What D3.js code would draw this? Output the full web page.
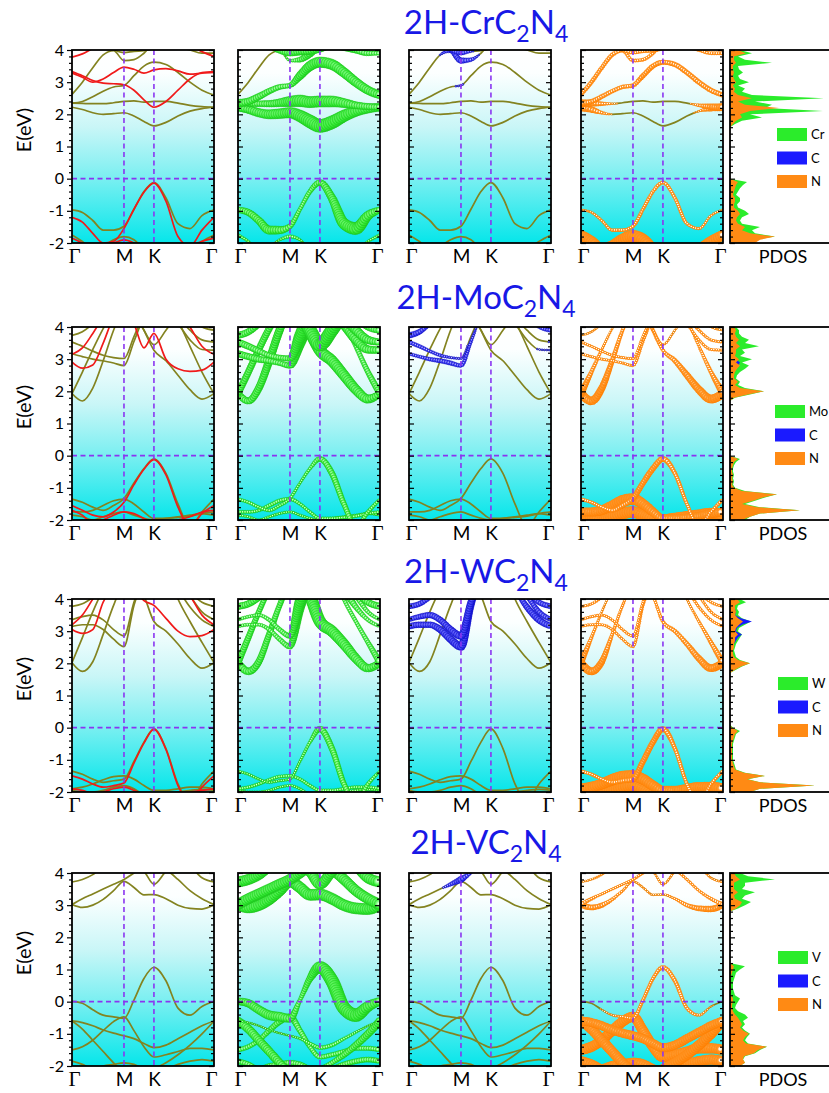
<!DOCTYPE html>
<html>
<head>
<meta charset="utf-8">
<script src="https://cdn.jsdelivr.net/npm/d3@7"></script>
<style>
  body { margin: 0; background: #fff; }
  svg { display: block; }
</style>
</head>
<body>
<script>
// ---- k-path sampling and axis labels ----
var kFrac = [0, 0.0732, 0.1464, 0.2196, 0.2928, 0.366, 0.4363, 0.5067, 0.577, 0.6616, 0.7462, 0.8308, 0.9154, 1];
var kTickPos = [0, 0.366, 0.577, 1];
var kTickLab = ["Γ", "M", "K", "Γ"];
var eTicks = [4, 3, 2, 1, 0, -1, -2];
var metals = ["Cr", "Mo", "W", "V"];
var species = ["C", "N"];
var z = [0, 0, 0, 0, 0, 0, 0, 0, 0, 0, 0, 0, 0, 0];

// ---- 2H-CrC2N4 ----
var crUp = [
  [-1.75, -1.95, -2.2, -2.1, -1.9, -1.8, -1.9, -2.2, -2.4, -2.4, -2.3, -2.2, -1.95, -1.75],
  [-0.97, -1.05, -1.3, -1.6, -1.6, -1.48, -0.95, -0.4, -0.12, -0.6, -1.4, -1.55, -1.15, -0.97],
  [2.22, 2.15, 2.05, 2.0, 2.02, 2.05, 1.95, 1.78, 1.64, 1.75, 1.95, 2.1, 2.18, 2.22],
  [2.35, 2.34, 2.33, 2.33, 2.36, 2.4, 2.42, 2.38, 2.4, 2.4, 2.35, 2.28, 2.24, 2.22],
  [2.35, 2.4, 2.55, 2.72, 2.85, 2.9, 3.2, 3.5, 3.62, 3.55, 3.3, 3.0, 2.75, 2.6],
  [2.62, 3.0, 3.45, 3.85, 3.98, 3.67, 3.7, 3.9, 4.2, 4.2, 4.1, 4.0, 3.9, 3.9],
  [4.4, 4.4, 4.3, 4.15, 4.0, 3.92, 3.96, 3.98, 4.05, 4.2, 4.3, 4.4, 4.4, 4.4]
];
var crDn = [
  [-1.85, -2.0, -2.15, -2.1, -2.0, -1.9, -2.0, -2.2, -2.3, -2.3, -2.2, -2.1, -1.95, -1.85],
  [-1.2, -1.35, -1.7, -2.0, -1.95, -1.55, -0.95, -0.42, -0.14, -0.7, -1.8, -2.1, -1.6, -1.2],
  [3.33, 3.2, 3.05, 2.97, 2.95, 2.92, 2.75, 2.45, 2.22, 2.4, 2.75, 3.1, 3.3, 3.33],
  [3.28, 3.15, 3.0, 3.1, 3.3, 3.47, 3.4, 3.28, 3.38, 3.42, 3.35, 3.25, 3.28, 3.3],
  [3.78, 3.88, 4.05, 4.2, 4.3, 4.3, 4.3, 4.3, 4.3, 4.3, 4.3, 4.15, 3.95, 3.8]
];
var crWm = [
  [0.25, 0.2, 0, 0, 0.2, 0.3, 0.2, 0, 0, 0, 0, 0, 0.2, 0.25],
  [0.45, 0.5, 0.55, 0.65, 0.6, 0.4, 0.3, 0.35, 0.45, 0.6, 0.85, 0.95, 0.7, 0.45],
  [0.6, 0.6, 0.65, 0.7, 0.75, 0.8, 0.9, 1, 1, 1, 0.9, 0.8, 0.7, 0.6],
  [0.45, 0.45, 0.45, 0.5, 0.6, 0.8, 0.9, 0.85, 0.85, 0.85, 0.7, 0.55, 0.5, 0.45],
  [0.6, 0.55, 0.5, 0.45, 0.4, 0.35, 0.6, 0.75, 0.8, 0.8, 0.75, 0.7, 0.65, 0.6],
  [0, 0, 0, 0, 0.1, 0.2, 0.4, 0.6, 0.7, 0.7, 0.6, 0.5, 0.4, 0.3],
  [0.5, 0.5, 0.5, 0.5, 0.5, 0.55, 0.6, 0.6, 0.6, 0.6, 0.5, 0.5, 0.5, 0.5]
];
var crWc = [z, z, z, z,
  [0, 0, 0, 0.05, 0.12, 0.18, 0.05, 0, 0, 0, 0, 0, 0, 0],
  [0, 0, 0, 0.15, 0.35, 0.45, 0.3, 0.1, 0, 0, 0, 0, 0, 0],
  [0, 0, 0, 0.1, 0.3, 0.4, 0.2, 0, 0, 0, 0, 0, 0, 0]
];
var crWn = [
  [0.8, 0.85, 0.9, 0.9, 0.95, 1, 0.95, 0.9, 0.8, 0.8, 0.8, 0.85, 0.85, 0.8],
  [0.2, 0.22, 0.25, 0.28, 0.3, 0.3, 0.3, 0.3, 0.3, 0.3, 0.28, 0.25, 0.22, 0.2],
  [0.6, 0.5, 0.3, 0.15, 0.05, 0, 0, 0, 0, 0, 0.05, 0.2, 0.45, 0.6],
  [0.6, 0.5, 0.35, 0.2, 0.1, 0.05, 0, 0, 0, 0, 0.1, 0.3, 0.5, 0.6],
  [0.45, 0.4, 0.38, 0.35, 0.35, 0.35, 0.4, 0.4, 0.4, 0.4, 0.4, 0.4, 0.4, 0.4],
  [0.35, 0.35, 0.35, 0.35, 0.3, 0.3, 0.3, 0.3, 0.3, 0.3, 0.3, 0.3, 0.3, 0.3],
  [0.3, 0.3, 0.3, 0.3, 0.3, 0.3, 0.3, 0.3, 0.3, 0.3, 0.3, 0.3, 0.3, 0.3]
];

// ---- 2H-MoC2N4 ----
var moUp = [
  [-1.85, -1.9, -2.0, -1.9, -1.8, -1.75, -1.85, -1.95, -2.0, -1.95, -1.9, -1.85, -1.8, -1.85],
  [-1.75, -1.75, -1.7, -1.55, -1.4, -1.35, -1.5, -1.75, -1.95, -1.95, -1.92, -1.88, -1.8, -1.75],
  [-1.35, -1.45, -1.6, -1.7, -1.55, -1.33, -0.85, -0.4, -0.1, -0.55, -1.5, -2.2, -1.75, -1.35],
  [1.93, 1.7, 2.1, 2.95, 3.9, 4.6, 4.6, 3.9, 3.28, 2.95, 2.5, 2.05, 1.76, 1.93],
  [1.93, 2.6, 3.3, 3.95, 4.5, 4.8, 4.8, 4.8, 4.8, 4.8, 4.2, 3.4, 2.6, 1.93],
  [3.17, 3.08, 3.0, 2.95, 2.88, 2.8, 3.55, 4.3, 4.6, 4.5, 4.1, 3.6, 3.3, 3.28],
  [3.53, 3.4, 3.25, 3.12, 3.05, 3.02, 3.7, 4.4, 4.7, 4.6, 4.3, 3.9, 3.6, 3.53],
  [4.6, 4.6, 4.6, 4.6, 4.6, 4.6, 4.4, 3.9, 3.45, 3.9, 4.4, 4.6, 4.6, 4.6],
  [3.74, 3.85, 4.1, 4.4, 4.6, 4.7, 4.7, 4.7, 4.7, 4.7, 4.6, 4.3, 4.0, 3.9]
];
var moDn = [
  [-1.7, -1.85, -2.1, -2.0, -1.85, -1.75, -1.8, -1.95, -2.1, -2.1, -2.0, -1.9, -1.75, -1.7],
  [-1.55, -1.7, -1.85, -1.9, -1.75, -1.45, -0.9, -0.42, -0.12, -0.6, -1.6, -2.2, -1.8, -1.55],
  [2.91, 2.72, 2.82, 3.5, 4.3, 4.6, 4.1, 3.35, 3.8, 3.0, 2.7, 2.62, 2.66, 2.91],
  [3.15, 3.35, 3.8, 4.3, 4.6, 4.6, 4.6, 4.6, 4.6, 4.6, 4.5, 4.0, 3.4, 3.15]
];
var moWm = [
  [0.2, 0.2, 0.2, 0.2, 0.2, 0.2, 0.2, 0.2, 0.2, 0.2, 0.2, 0.2, 0.2, 0.2],
  [0.25, 0.25, 0.25, 0.3, 0.3, 0.3, 0.25, 0.25, 0.25, 0.25, 0.25, 0.25, 0.25, 0.25],
  [0.25, 0.25, 0.25, 0.25, 0.25, 0.25, 0.2, 0.25, 0.4, 0.45, 0.4, 0.35, 0.3, 0.25],
  [0.5, 0.5, 0.55, 0.6, 0.6, 0.6, 0.8, 0.9, 0.9, 0.85, 0.8, 0.75, 0.65, 0.5],
  [0.5, 0.5, 0.5, 0.5, 0.5, 0.5, 0.5, 0.5, 0.5, 0.5, 0.4, 0.35, 0.4, 0.5],
  [0.5, 0.5, 0.5, 0.45, 0.4, 0.45, 0.9, 1, 1, 0.9, 0.8, 0.7, 0.6, 0.5],
  [0.5, 0.5, 0.45, 0.4, 0.4, 0.45, 0.9, 1, 1, 0.9, 0.8, 0.7, 0.6, 0.5],
  [0.8, 0.8, 0.8, 0.8, 0.8, 0.8, 0.9, 1, 1, 1, 0.9, 0.8, 0.8, 0.8],
  [0.5, 0.5, 0.5, 0.5, 0.5, 0.5, 0.5, 0.5, 0.5, 0.5, 0.5, 0.5, 0.5, 0.5]
];
var moWc = [z, z, z, z, z,
  [0.25, 0.25, 0.3, 0.35, 0.35, 0.3, 0.25, 0.1, 0, 0, 0, 0.1, 0.15, 0.15],
  [0.3, 0.3, 0.25, 0.25, 0.2, 0.18, 0.12, 0.05, 0, 0, 0, 0.05, 0.1, 0.15],
  z,
  [0.45, 0.4, 0.3, 0.2, 0.1, 0, 0, 0, 0, 0, 0, 0.15, 0.25, 0.35]
];
var moWn = [
  [0.9, 0.9, 0.9, 0.9, 0.9, 0.9, 0.9, 0.9, 0.9, 0.9, 0.9, 0.9, 0.9, 0.9],
  [0.7, 0.7, 0.75, 0.8, 0.9, 0.9, 0.8, 0.7, 0.6, 0.6, 0.6, 0.65, 0.7, 0.7],
  [0.3, 0.3, 0.3, 0.35, 0.4, 0.45, 0.45, 0.45, 0.45, 0.35, 0.3, 0.3, 0.3, 0.3],
  [0.7, 0.65, 0.55, 0.4, 0.3, 0.3, 0.3, 0.3, 0.3, 0.4, 0.5, 0.6, 0.7, 0.7],
  [0.55, 0.35, 0.25, 0.2, 0.2, 0.2, 0.2, 0.2, 0.2, 0.2, 0.2, 0.25, 0.35, 0.55],
  [0.25, 0.25, 0.25, 0.25, 0.25, 0.25, 0.25, 0.25, 0.25, 0.25, 0.25, 0.25, 0.25, 0.25],
  [0.25, 0.25, 0.25, 0.25, 0.25, 0.25, 0.25, 0.25, 0.25, 0.25, 0.25, 0.25, 0.25, 0.25],
  [0.2, 0.2, 0.2, 0.2, 0.2, 0.2, 0.2, 0.2, 0.2, 0.2, 0.2, 0.2, 0.2, 0.2],
  [0.2, 0.2, 0.2, 0.2, 0.2, 0.2, 0.2, 0.2, 0.2, 0.2, 0.2, 0.2, 0.2, 0.2]
];

// ---- 2H-WC2N4 ----
var wUp = [
  [-1.95, -2.0, -2.0, -1.95, -1.85, -1.8, -1.9, -2.1, -2.2, -2.1, -2.0, -1.95, -1.92, -1.95],
  [-1.9, -1.85, -1.75, -1.62, -1.52, -1.5, -1.6, -1.8, -1.95, -1.95, -1.9, -1.85, -1.85, -1.9],
  [-1.35, -1.45, -1.6, -1.7, -1.65, -1.6, -1.05, -0.45, -0.04, -0.65, -1.75, -2.3, -1.75, -1.35],
  [2.02, 1.75, 2.05, 2.9, 3.8, 4.5, 4.6, 4.1, 3.3, 3.0, 2.6, 2.15, 1.85, 2.02],
  [2.02, 2.8, 3.6, 4.3, 4.8, 5, 5, 5, 5, 5, 4.0, 3.3, 2.65, 2.02],
  [3.15, 3.2, 3.2, 3.05, 2.75, 2.52, 3.8, 4.6, 4.8, 4.8, 4.3, 3.75, 3.35, 3.15],
  [3.36, 3.45, 3.5, 3.35, 3.05, 2.85, 3.9, 4.7, 4.9, 4.9, 4.6, 4.1, 3.6, 3.36],
  [3.77, 3.85, 4.05, 4.3, 4.5, 4.6, 4.6, 4.6, 4.6, 4.6, 4.5, 4.2, 3.9, 3.77]
];
var wDn = [
  [-1.9, -1.95, -2.05, -2.0, -1.9, -1.85, -1.95, -2.1, -2.2, -2.1, -2.05, -2.0, -1.95, -1.9],
  [-1.5, -1.6, -1.75, -1.85, -1.8, -1.72, -1.1, -0.48, -0.05, -0.68, -1.8, -2.3, -1.85, -1.5],
  [3.05, 2.93, 3.05, 3.9, 4.4, 4.5, 4.3, 3.95, 3.8, 3.4, 3.0, 2.83, 2.86, 3.05],
  [3.2, 3.5, 4.0, 4.5, 4.6, 4.6, 4.6, 4.6, 4.6, 4.6, 4.5, 4.1, 3.5, 3.2]
];
var wWm = [
  [0.2, 0.2, 0.2, 0.2, 0.2, 0.2, 0.2, 0.2, 0.2, 0.2, 0.2, 0.2, 0.2, 0.2],
  [0.25, 0.25, 0.25, 0.25, 0.25, 0.25, 0.25, 0.25, 0.25, 0.25, 0.25, 0.25, 0.25, 0.25],
  [0.2, 0.2, 0.2, 0.2, 0.2, 0.2, 0.2, 0.25, 0.45, 0.45, 0.4, 0.35, 0.3, 0.2],
  [0.55, 0.55, 0.5, 0.45, 0.4, 0.5, 0.8, 0.9, 0.9, 0.85, 0.8, 0.7, 0.6, 0.55],
  [0.5, 0.45, 0.4, 0.4, 0.4, 0.4, 0.4, 0.4, 0.4, 0.4, 0.3, 0.3, 0.35, 0.5],
  [0.25, 0.25, 0.25, 0.3, 0.35, 0.4, 0.8, 0.9, 0.9, 0.8, 0.6, 0.4, 0.3, 0.25],
  [0.25, 0.25, 0.25, 0.3, 0.35, 0.4, 0.8, 0.9, 0.9, 0.8, 0.6, 0.4, 0.3, 0.25],
  [0.5, 0.5, 0.5, 0.5, 0.5, 0.5, 0.5, 0.5, 0.5, 0.5, 0.5, 0.5, 0.5, 0.5]
];
var wWc = [z, z, z, z, z,
  [0.45, 0.45, 0.45, 0.5, 0.55, 0.6, 0.5, 0.3, 0.1, 0.1, 0.3, 0.45, 0.5, 0.45],
  [0.35, 0.4, 0.45, 0.45, 0.5, 0.55, 0.5, 0.3, 0.1, 0.1, 0.2, 0.35, 0.4, 0.35],
  [0.4, 0.4, 0.35, 0.3, 0.2, 0.1, 0.1, 0.1, 0.1, 0.1, 0.2, 0.3, 0.4, 0.4]
];
var wWn = [
  [0.9, 0.9, 0.9, 0.9, 0.9, 0.9, 0.9, 0.9, 0.9, 0.9, 0.9, 0.9, 0.9, 0.9],
  [0.85, 0.85, 0.85, 0.9, 0.9, 0.9, 0.85, 0.8, 0.7, 0.7, 0.75, 0.8, 0.85, 0.85],
  [0.3, 0.3, 0.3, 0.35, 0.4, 0.45, 0.45, 0.45, 0.45, 0.35, 0.3, 0.3, 0.3, 0.3],
  [0.6, 0.6, 0.5, 0.3, 0.25, 0.2, 0.2, 0.25, 0.3, 0.35, 0.4, 0.5, 0.6, 0.6],
  [0.5, 0.3, 0.2, 0.2, 0.2, 0.2, 0.2, 0.2, 0.2, 0.2, 0.2, 0.25, 0.35, 0.5],
  [0.25, 0.25, 0.25, 0.25, 0.25, 0.25, 0.25, 0.25, 0.25, 0.25, 0.25, 0.25, 0.25, 0.25],
  [0.25, 0.25, 0.25, 0.25, 0.25, 0.25, 0.25, 0.25, 0.25, 0.25, 0.25, 0.25, 0.25, 0.25],
  [0.25, 0.25, 0.25, 0.25, 0.25, 0.25, 0.25, 0.25, 0.25, 0.25, 0.25, 0.25, 0.25, 0.25]
];

// ---- 2H-VC2N4 ----
var vUp = [
  [-1.85, -1.95, -2.1, -2.0, -1.95, -1.9, -1.95, -2.1, -2.2, -2.1, -1.95, -1.85, -1.8, -1.85],
  [-1.5, -1.4, -1.2, -0.9, -0.62, -0.47, -0.9, -1.4, -1.72, -1.65, -1.55, -1.45, -1.45, -1.5],
  [-0.6, -0.85, -1.2, -1.55, -1.9, -2.2, -2.4, -2.3, -2.1, -1.9, -1.65, -1.35, -1.0, -0.6],
  [-0.6, -0.65, -0.75, -0.88, -0.98, -1.06, -1.15, -1.3, -1.43, -1.35, -1.15, -0.95, -0.75, -0.6],
  [0.01, -0.05, -0.25, -0.42, -0.47, -0.52, 0.05, 0.72, 1.07, 0.65, -0.2, -0.42, -0.15, 0.01],
  [3.02, 2.93, 3.0, 3.18, 3.45, 3.74, 3.55, 3.32, 3.33, 3.2, 3.0, 2.9, 2.88, 3.02],
  [3.02, 3.2, 3.35, 3.5, 3.65, 3.8, 4.0, 4.2, 4.2, 4.1, 3.8, 3.45, 3.2, 3.02],
  [3.72, 3.8, 3.95, 4.2, 4.3, 4.2, 4.2, 4.05, 3.65, 4.05, 4.3, 4.2, 3.85, 3.72]
];
var vDn = [];
var vWm = [
  [0.4, 0.4, 0.4, 0.4, 0.4, 0.4, 0.4, 0.4, 0.4, 0.4, 0.4, 0.4, 0.4, 0.4],
  [0.35, 0.35, 0.35, 0.4, 0.45, 0.5, 0.4, 0.35, 0.35, 0.35, 0.35, 0.35, 0.35, 0.35],
  [0.6, 0.65, 0.65, 0.65, 0.6, 0.5, 0.3, 0.3, 0.3, 0.35, 0.45, 0.5, 0.55, 0.6],
  [0.15, 0.15, 0.15, 0.15, 0.15, 0.15, 0.2, 0.25, 0.3, 0.3, 0.25, 0.2, 0.15, 0.15],
  [0.55, 0.6, 0.65, 0.7, 0.7, 0.6, 0.3, 0.5, 0.9, 1, 1, 1, 0.8, 0.6],
  [0.85, 0.85, 0.85, 0.85, 0.85, 0.85, 0.85, 0.85, 0.85, 0.85, 0.85, 0.85, 0.85, 0.85],
  [0.8, 0.8, 0.8, 0.8, 0.8, 0.8, 0.8, 0.8, 0.8, 0.8, 0.8, 0.8, 0.8, 0.8],
  [0.8, 0.8, 0.8, 0.8, 0.8, 0.8, 0.8, 0.8, 0.8, 0.8, 0.8, 0.8, 0.8, 0.8]
];
var vWc = [z, z, z, z, z, z,
  [0, 0, 0, 0.1, 0.3, 0.5, 0.2, 0, 0, 0, 0, 0, 0, 0],
  [0, 0, 0, 0.1, 0.2, 0.3, 0.1, 0, 0, 0, 0, 0, 0, 0]
];
var vWn = [
  [0.8, 0.8, 0.8, 0.8, 0.8, 0.8, 0.8, 0.8, 0.8, 0.8, 0.8, 0.8, 0.8, 0.8],
  [0.8, 0.8, 0.8, 0.8, 0.8, 0.8, 0.8, 0.8, 0.8, 0.8, 0.8, 0.8, 0.8, 0.8],
  [0.75, 0.8, 0.8, 0.8, 0.8, 0.8, 0.8, 0.8, 0.8, 0.8, 0.8, 0.8, 0.8, 0.75],
  [0.7, 0.7, 0.7, 0.7, 0.7, 0.7, 0.7, 0.7, 0.7, 0.7, 0.7, 0.7, 0.7, 0.7],
  [0.1, 0.1, 0.15, 0.2, 0.25, 0.3, 0.3, 0.3, 0.35, 0.35, 0.3, 0.25, 0.15, 0.1],
  [0.5, 0.45, 0.4, 0.3, 0.25, 0.2, 0.2, 0.2, 0.2, 0.25, 0.35, 0.45, 0.5, 0.5],
  [0.35, 0.3, 0.25, 0.25, 0.25, 0.25, 0.25, 0.25, 0.25, 0.25, 0.25, 0.25, 0.3, 0.35],
  [0.2, 0.2, 0.2, 0.2, 0.2, 0.2, 0.2, 0.2, 0.2, 0.2, 0.2, 0.2, 0.2, 0.2]
];

// ---- PDOS, E from -2.0 to 4.0 eV in 0.1 eV steps ----
var crDosM = [1.2, 2.5, 4.5, 2.5, 2.2, 3.0, 1.2, 1.0, 1.2, 1.9, 1.5, 0.8, 0.7, 1.0, 1.0, 0.6, 0.8, 1.0, 1.3, 1.7,
  0, 0, 0, 0, 0, 0, 0, 0, 0, 0, 0, 0, 0, 0, 0, 0, 0,
  0.5, 1.2, 3.2, 2.0, 9.3, 3.5, 4.2, 2.5, 9.4, 2.2, 1.2, 1.5, 0.8, 1.9, 1.0, 0.8, 1.3, 0.9, 0.8, 4.2, 1.5, 0.8, 2.2, 1.0];
var crDosC = [0.2, 0.2, 0.2, 0.2, 0.2, 0.2, 0.2, 0.2, 0.2, 0.2, 0.2, 0.2, 0.2, 0.2, 0.2, 0.2, 0.2, 0.2, 0.2, 0.2,
  0, 0, 0, 0, 0, 0, 0, 0, 0, 0, 0, 0, 0, 0, 0, 0, 0,
  0.2, 0.2, 0.2, 0.2, 0.2, 0.2, 0.2, 0.2, 0.2, 0.2, 0.2, 0.2, 0.2, 0.2, 0.2, 0.2, 0.2, 0.2, 0.2, 0.3, 0.3, 0.3, 0.4, 0.3];
var crDosN = [2.5, 3.0, 4.5, 2.0, 1.2, 1.5, 0.8, 0.6, 0.7, 1.0, 0.8, 0.4, 0.4, 0.5, 0.5, 0.3, 0.4, 0.5, 0.6, 0.8,
  0, 0, 0, 0, 0, 0, 0, 0, 0, 0, 0, 0, 0, 0, 0, 0, 0,
  0.3, 0.6, 1.2, 1.0, 2.0, 4.9, 1.5, 0.8, 2.2, 0.8, 0.4, 0.5, 0.3, 0.6, 0.4, 0.3, 0.4, 0.3, 0.3, 0.6, 0.4, 0.4, 1.6, 0.8];

var moDosM = [1.5, 2.0, 3.0, 7.0, 3.0, 1.5, 2.5, 3.5, 4.7, 1.5, 0.5, 0.3, 0.4, 0.3, 0.4, 0.3, 0.3, 0.4, 0.6, 1.0,
  0, 0, 0, 0, 0, 0, 0, 0, 0, 0, 0, 0, 0, 0, 0, 0, 0, 0,
  0.5, 2.0, 3.4, 1.5, 0.8, 1.0, 0.6, 0.7, 1.0, 1.5, 1.9, 1.2, 2.2, 1.0, 1.5, 1.2, 2.9, 1.5, 1.9, 1.2, 0.9, 0.9, 0.6];
var moDosC = [0.1, 0.1, 0.1, 0.1, 0.1, 0.1, 0.1, 0.1, 0.1, 0.1, 0.1, 0.1, 0.1, 0.1, 0.1, 0.1, 0.1, 0.1, 0.1, 0.1,
  0, 0, 0, 0, 0, 0, 0, 0, 0, 0, 0, 0, 0, 0, 0, 0, 0, 0,
  0.1, 0.2, 0.3, 0.2, 0.2, 0.3, 0.2, 0.2, 0.3, 0.4, 0.8, 1.0, 0.6, 0.3, 0.3, 0.4, 0.5, 0.3, 0.5, 0.3, 0.2, 0.3, 0.2];
var moDosN = [1.2, 2.0, 3.0, 7.0, 2.8, 1.2, 2.3, 3.3, 4.7, 1.2, 0.4, 0.2, 0.3, 0.2, 0.3, 0.2, 0.2, 0.3, 0.4, 0.8,
  0, 0, 0, 0, 0, 0, 0, 0, 0, 0, 0, 0, 0, 0, 0, 0, 0, 0,
  0.4, 1.8, 3.4, 1.0, 0.5, 0.8, 0.4, 0.4, 0.5, 0.7, 1.0, 0.6, 0.9, 0.5, 0.6, 0.6, 1.0, 0.6, 0.9, 0.6, 0.5, 0.6, 0.4];

var wDosM = [2.0, 3.0, 8.5, 3.0, 1.8, 3.5, 1.5, 0.6, 0.5, 0.4, 0.3, 0.3, 0.3, 0.3, 0.3, 0.3, 0.4, 0.5, 0.6, 1.0,
  0.3, 0, 0, 0, 0, 0, 0, 0, 0, 0, 0, 0, 0, 0, 0, 0, 0, 0,
  0.6, 1.2, 2.0, 1.0, 0.6, 0.5, 0.4, 0.5, 0.6, 0.8, 1.0, 1.2, 0.8, 0.9, 1.5, 2.1, 1.2, 0.8, 0.9, 0.7, 0.8, 1.6, 1.0];
var wDosC = [0.1, 0.1, 0.1, 0.1, 0.1, 0.1, 0.1, 0.1, 0.1, 0.1, 0.1, 0.1, 0.1, 0.1, 0.1, 0.1, 0.1, 0.1, 0.1, 0.1,
  0, 0, 0, 0, 0, 0, 0, 0, 0, 0, 0, 0, 0, 0, 0, 0, 0, 0,
  0.1, 0.2, 0.3, 0.2, 0.2, 0.2, 0.2, 0.3, 0.4, 0.6, 0.8, 1.2, 0.6, 0.7, 1.2, 2.2, 1.1, 0.5, 0.6, 0.5, 0.4, 0.7, 0.5];
var wDosN = [2.0, 3.0, 8.5, 3.0, 1.7, 3.5, 1.4, 0.5, 0.4, 0.3, 0.2, 0.2, 0.2, 0.2, 0.2, 0.2, 0.3, 0.4, 0.5, 0.8,
  0.2, 0, 0, 0, 0, 0, 0, 0, 0, 0, 0, 0, 0, 0, 0, 0, 0, 0,
  0.5, 1.1, 2.0, 0.8, 0.4, 0.3, 0.3, 0.4, 0.4, 0.5, 0.5, 0.8, 0.5, 0.6, 0.9, 1.3, 0.8, 0.5, 0.6, 0.5, 0.5, 1.0, 0.7];

var vDosM = [1.0, 1.5, 1.3, 1.5, 2.5, 3.0, 3.7, 1.8, 1.5, 1.7, 2.0, 1.5, 1.2, 1.5, 1.3, 1.8, 1.5, 0.8, 0.5, 0.6,
  0.8, 1.0, 0.5, 0.4, 0.3, 0.3, 0.3, 0.4, 0.5, 0.6, 1.0, 1.5,
  0, 0, 0, 0, 0, 0, 0, 0, 0, 0, 0, 0, 0, 0, 0, 0, 0,
  0.8, 1.5, 2.1, 1.2, 1.5, 2.5, 1.2, 1.5, 1.5, 4.5, 1.8, 1.0];
var vDosC = [0.1, 0.1, 0.1, 0.1, 0.1, 0.1, 0.1, 0.1, 0.1, 0.1, 0.1, 0.1, 0.1, 0.1, 0.1, 0.1, 0.1, 0.1, 0.1, 0.1,
  0, 0, 0, 0, 0, 0, 0, 0, 0, 0, 0, 0,
  0, 0, 0, 0, 0, 0, 0, 0, 0, 0, 0, 0, 0, 0, 0, 0, 0,
  0.1, 0.2, 0.2, 0.1, 0.1, 0.2, 0.1, 0.2, 0.2, 0.5, 0.3, 0.2];
var vDosN = [1.0, 1.5, 1.3, 1.4, 2.4, 2.8, 3.7, 1.6, 1.3, 1.5, 1.9, 1.3, 1.0, 1.2, 1.0, 0.8, 0.5, 0.3, 0.2, 0.2,
  0.3, 0.3, 0.1, 0.1, 0.1, 0.1, 0.1, 0.1, 0.1, 0.2, 0.3, 0.4,
  0, 0, 0, 0, 0, 0, 0, 0, 0, 0, 0, 0, 0, 0, 0, 0, 0,
  0.6, 1.0, 1.2, 0.5, 0.4, 0.8, 0.4, 0.4, 0.4, 1.0, 0.6, 0.4];

// tables built from the arrays above
var upBands = [crUp, moUp, wUp, vUp];
var dnBands = [crDn, moDn, wDn, vDn];
var projW = [[crWm, moWm, wWm, vWm], [crWc, moWc, wWc, vWc], [crWn, moWn, wWn, vWn]];
var dosTable = [[crDosM, crDosC, crDosN], [moDosM, moDosC, moDosN], [wDosM, wDosC, wDosN], [vDosM, vDosC, vDosN]];
var eGrid = d3.range(61).map(function(i) { return -2 + i * 0.1; });

// ---- layout ----
var W = 829, H = 1093;
var panelX = [72, 238, 409, 581], panelW = 142, panelH = 193, pdosX = 730;
var rowTop = [50, 327, 599, 873];
var titleY = [34, 309, 583, 854], titleX = 486;
var legendX = [777, 775, 778, 778];
var olive = "#838320", red = "#f01a1a", dashCol = "#8a35f0";
var dosCols = ["#2bec2b", "#1a1aff", "#ff8a14"];
var ballFill = ["url(#gBall)", "url(#bBall)", "url(#oBall)"];
var ballStroke = ["#22c422", "#1515c0", "none"];
var sans = "Lato, 'Open Sans', sans-serif";

var svg = d3.select("body").append("svg").attr("width", W).attr("height", H);
svg.append("rect").attr("width", W).attr("height", H).attr("fill", "#fff");
var defs = svg.append("defs");

var bg = defs.append("linearGradient").attr("id", "bgGrad")
    .attr("x1", 0).attr("y1", 0).attr("x2", 0).attr("y2", 1);
[[0, "#ffffff"], [0.12, "#fcffff"], [0.4, "#c9f6f7"], [0.67, "#78eff1"], [1, "#06e6ea"]].forEach(function(s) {
    bg.append("stop").attr("offset", s[0]).attr("stop-color", s[1]);
});

function radial(id, stops) {
    var g = defs.append("radialGradient").attr("id", id).attr("cx", "45%").attr("cy", "45%").attr("r", "55%");
    stops.forEach(function(s) { g.append("stop").attr("offset", s[0]).attr("stop-color", s[1]); });
}
radial("gBall", [[0, "#f0fff0"], [0.35, "#94ff94"], [0.75, "#34ec34"], [1, "#1cd01c"]]);
radial("bBall", [[0, "#d4d4ff"], [0.4, "#6060ff"], [1, "#1414e0"]]);
radial("oBall", [[0, "#ffffff"], [0.22, "#fff3e4"], [0.42, "#ff9a2e"], [1, "#ff7f00"]]);

defs.append("clipPath").attr("id", "pclip").append("rect").attr("width", panelW).attr("height", panelH);
defs.append("clipPath").attr("id", "dclip").append("rect").attr("width", 200).attr("height", panelH);

var x = d3.scaleLinear().domain([0, 1]).range([0, panelW]);
var y = d3.scaleLinear().domain([-2, 4]).range([panelH, 0]);
var rScale = d3.scaleLinear().domain([0, 1]).range([0, 6.5]);
var xd = d3.scaleLinear().domain([0, 10]).range([0, 100]);

var bandLine = d3.line()
    .x(function(d, i) { return x(kFrac[i]); })
    .y(function(d) { return y(d); })
    .curve(d3.curveMonotoneX);

var dosArea = d3.area()
    .y(function(d, i) { return y(eGrid[i]); })
    .x0(0)
    .x1(function(d) { return xd(d); });

var minorTicks = d3.range(-2, 4.001, 0.2).filter(function(v) { return Math.abs(v - Math.round(v)) > 0.01; });

function weightAt(w, f) {
    var j = d3.bisectRight(kFrac, f) - 1;
    j = Math.max(0, Math.min(kFrac.length - 2, j));
    var t = (f - kFrac[j]) / (kFrac[j + 1] - kFrac[j]);
    t = Math.max(0, Math.min(1, t));
    return w[j] + (w[j + 1] - w[j]) * t;
}

// circles strung along a band, sized by projection weight
function fatBand(c, band, w, fill, stroke) {
    if (!w || !d3.max(w)) return;
    var tmp = c.append("path").attr("d", bandLine(band)).attr("fill", "none");
    var node = tmp.node(), L = node.getTotalLength(), pts = [];
    for (var s = 0; s <= L; s += 2.4) {
        var p = node.getPointAtLength(s);
        if (p.y < -8 || p.y > panelH + 8) continue;
        var r = rScale(weightAt(w, x.invert(p.x)));
        if (r >= 0.9) pts.push([p.x, p.y, r]);
    }
    tmp.remove();
    c.append("g").selectAll("circle").data(pts).enter().append("circle")
        .attr("cx", function(d) { return d[0]; })
        .attr("cy", function(d) { return d[1]; })
        .attr("r", function(d) { return d[2]; })
        .attr("fill", fill)
        .attr("stroke", stroke)
        .attr("stroke-width", 0.5);
}

function sideTicks(g, w, outLeft) {
    // left edge
    if (outLeft) {
        g.append("g").call(d3.axisLeft(y).tickValues(minorTicks).tickSize(3).tickFormat(""));
    } else {
        g.append("g").call(d3.axisRight(y).tickValues(eTicks).tickSize(5).tickFormat(""));
        g.append("g").call(d3.axisRight(y).tickValues(minorTicks).tickSize(3).tickFormat(""));
    }
    // right edge
    if (w) {
        g.append("g").attr("transform", "translate(" + w + ",0)")
            .call(d3.axisLeft(y).tickValues(eTicks).tickSize(5).tickFormat(""));
        g.append("g").attr("transform", "translate(" + w + ",0)")
            .call(d3.axisLeft(y).tickValues(minorTicks).tickSize(3).tickFormat(""));
    }
    g.selectAll(".domain").remove();
    g.selectAll(".tick line").attr("stroke", "#000").attr("stroke-width", 1.2);
}

metals.forEach(function(m, r) {
    var top = rowTop[r];

    // title
    var t = svg.append("text").attr("x", titleX).attr("y", titleY[r]).attr("text-anchor", "middle")
        .attr("font-family", sans).attr("font-size", 33).attr("fill", "#1818e6");
    t.append("tspan").text("2H-" + m + "C");
    t.append("tspan").attr("font-size", 23).attr("dy", 8).text("2");
    t.append("tspan").attr("dy", -8).text("N");
    t.append("tspan").attr("font-size", 23).attr("dy", 8).text("4");

    // y label
    svg.append("text").attr("transform", "translate(31," + (top + 80) + ") rotate(-90)")
        .attr("text-anchor", "middle").attr("font-family", sans).attr("font-size", 20)
        .text("E(eV)");

    panelX.forEach(function(px, p) {
        var g = svg.append("g").attr("transform", "translate(" + px + "," + top + ")");
        g.append("rect").attr("width", panelW).attr("height", panelH).attr("fill", "url(#bgGrad)");
        var c = g.append("g").attr("clip-path", "url(#pclip)");

        upBands[r].forEach(function(b) {
            c.append("path").attr("d", bandLine(b)).attr("fill", "none")
                .attr("stroke", olive).attr("stroke-width", 1.7);
        });
        if (p === 0) {
            dnBands[r].forEach(function(b) {
                c.append("path").attr("d", bandLine(b)).attr("fill", "none")
                    .attr("stroke", red).attr("stroke-width", 1.7);
            });
        } else {
            var wSet = projW[p - 1][r];
            upBands[r].forEach(function(b, bi) {
                fatBand(c, b, wSet[bi], ballFill[p - 1], ballStroke[p - 1]);
            });
        }

        // high-symmetry and Fermi level guides
        c.selectAll(".vguide").data(kTickPos.slice(1, 3)).enter().append("line")
            .attr("x1", function(d) { return x(d); }).attr("x2", function(d) { return x(d); })
            .attr("y1", 0).attr("y2", panelH)
            .attr("stroke", dashCol).attr("stroke-width", 1.6).attr("stroke-dasharray", "5,3.5");
        c.append("line").attr("x1", 0).attr("x2", panelW).attr("y1", y(0)).attr("y2", y(0))
            .attr("stroke", dashCol).attr("stroke-width", 1.6).attr("stroke-dasharray", "5,3.5");

        g.append("rect").attr("width", panelW).attr("height", panelH)
            .attr("fill", "none").attr("stroke", "#000").attr("stroke-width", 1.8);

        sideTicks(g, panelW, p === 0);
        if (p === 0) {
            var ya = g.append("g").call(d3.axisLeft(y).tickValues(eTicks).tickSize(5).tickPadding(3)
                .tickFormat(function(d) { return String(d); }));
            ya.select(".domain").remove();
            ya.selectAll(".tick line").attr("stroke", "#000").attr("stroke-width", 1.2);
            ya.selectAll("text").attr("font-family", sans).attr("font-size", 16).attr("fill", "#000");
        }

        var xa = g.append("g").attr("transform", "translate(0," + panelH + ")")
            .call(d3.axisBottom(x).tickValues(kTickPos).tickSize(0).tickPadding(7)
                .tickFormat(function(d, i) { return kTickLab[i]; }));
        xa.select(".domain").remove();
        xa.selectAll("text").attr("fill", "#000")
            .attr("font-family", function(d, i) { return kTickLab[i] === "Γ" ? "'Liberation Serif', 'DejaVu Serif', serif" : sans; })
            .attr("font-size", function(d, i) { return kTickLab[i] === "Γ" ? 21 : 19; })
            .attr("dy", function(d, i) { return kTickLab[i] === "Γ" ? "0.64em" : "0.71em"; })
            .attr("dx", function(d, i) { return i === 0 ? 2 : (i === kTickPos.length - 1 ? -3 : 0); });
    });

    // PDOS panel
    var dg = svg.append("g").attr("transform", "translate(" + pdosX + "," + top + ")");
    dg.append("rect").attr("width", 200).attr("height", panelH).attr("fill", "#fff");
    var dc = dg.append("g").attr("clip-path", "url(#dclip)");
    dosTable[r].forEach(function(arr, i) {
        dc.append("path").datum(arr).attr("d", dosArea).attr("fill", dosCols[i]).attr("stroke", "none");
    });
    dg.append("rect").attr("width", 200).attr("height", panelH)
        .attr("fill", "none").attr("stroke", "#000").attr("stroke-width", 1.8);
    sideTicks(dg, 0, false);
    dg.append("text").attr("x", 53).attr("y", panelH + 20).attr("text-anchor", "middle")
        .attr("font-family", sans).attr("font-size", 18).text("PDOS");

    // legend
    var labels = [m].concat(species);
    labels.forEach(function(lab, i) {
        var ly = top + 78 + i * 23.5;
        svg.append("rect").attr("x", legendX[r]).attr("y", ly).attr("width", 30).attr("height", 13)
            .attr("fill", dosCols[i]);
        svg.append("text").attr("x", legendX[r] + 34).attr("y", ly + 11)
            .attr("font-family", sans).attr("font-size", 13).text(lab);
    });
});
</script>
</body>
</html>
